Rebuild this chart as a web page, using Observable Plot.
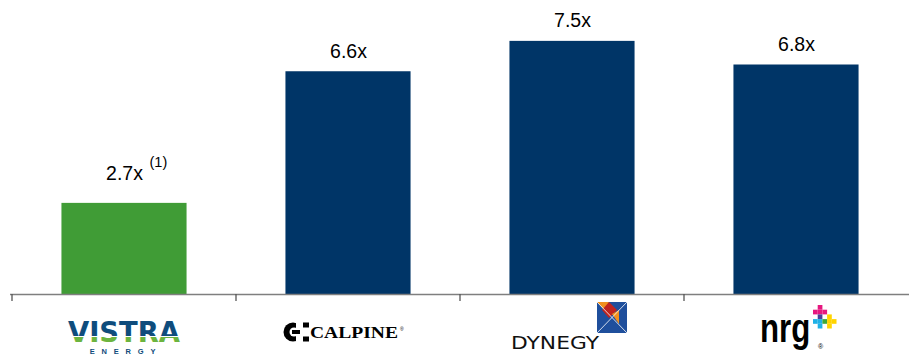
<!DOCTYPE html>
<html>
<head>
<meta charset="utf-8">
<script src="https://cdn.jsdelivr.net/npm/d3@7"></script>
<script src="https://cdn.jsdelivr.net/npm/@observablehq/plot@0.6"></script>
<style>
  html, body { margin: 0; padding: 0; background: #fff; }
  #chart svg { display: block; font-family: Arial, "Liberation Sans", sans-serif; }
</style>
</head>
<body>
<div id="chart"></div>
<script>
const companies = ["Vistra Energy", "Calpine", "Dynegy", "NRG"];
const multiples = [2.7, 6.6, 7.5, 6.8];
const footnotes = ["(1)", "", "", ""];
const barColors = ["#409c36", "#003567", "#003567", "#003567"];

const data = companies.map((c, i) => ({
  company: c, value: multiples[i], note: footnotes[i], color: barColors[i]
}));

const W = 909, H = 356;
const insetFrac = 0.22;
const bw = (W - 10) / companies.length;
const inset = bw * insetFrac;

const chart = Plot.plot({
  width: W,
  height: H,
  marginLeft: 10,
  marginRight: 0,
  marginTop: 24,
  marginBottom: 62,
  x: { domain: companies, padding: 0, axis: null },
  y: { domain: [0, 8], axis: null },
  marks: [
    Plot.barY(data, { x: "company", y: "value", fill: "color", insetLeft: inset, insetRight: inset }),
    Plot.ruleY([0], { stroke: "#7f7f7f", strokeWidth: 1.6 }),
    Plot.text(data.filter(d => !d.note), {
      x: "company", y: "value", text: d => d.value.toFixed(1) + "x",
      dy: -14, lineAnchor: "bottom", fontSize: 19.5, fill: "#000"
    }),
    Plot.text(data.filter(d => d.note), {
      x: "company", y: "value", text: d => d.value.toFixed(1) + "x",
      dy: -23, lineAnchor: "bottom", fontSize: 19.5, fill: "#000"
    }),
    Plot.text(data.filter(d => d.note), {
      x: "company", y: "value", text: "note",
      dx: 25, dy: -36, lineAnchor: "bottom", textAnchor: "start", fontSize: 14.5, fill: "#000"
    })
  ]
});

document.getElementById("chart").appendChild(chart);

// Category boundary ticks and logos placed via the x scale
const xs = chart.scale("x");
const ys = chart.scale("y");
const svg = d3.select(chart);
const y0 = ys.apply(0);
const band = xs.bandwidth;

const ticks = svg.append("g");
companies.forEach(c => {
  const x0 = xs.apply(c);
  ticks.append("line").attr("x1", x0).attr("x2", x0).attr("y1", y0).attr("y2", y0 + 7)
    .attr("stroke", "#555").attr("stroke-width", 1.3);
});

const defs = svg.append("defs");
const grad = defs.append("linearGradient").attr("id", "vistraGrad")
  .attr("gradientUnits", "userSpaceOnUse").attr("x1", 0).attr("x2", 0).attr("y1", 320.5).attr("y2", 341.5);
grad.append("stop").attr("offset", 0.74).attr("stop-color", "#0f4c7c");
grad.append("stop").attr("offset", 0.74).attr("stop-color", "#ffffff");
grad.append("stop").attr("offset", 0.79).attr("stop-color", "#ffffff");
grad.append("stop").attr("offset", 0.79).attr("stop-color", "#6cb43f");

const cx = c => xs.apply(c) + band / 2;

// Vistra Energy logo
{
  const g = svg.append("g").attr("transform", `translate(${cx("Vistra Energy")},0)`);
  g.append("text").attr("x", 0).attr("y", 341.5).attr("text-anchor", "middle")
    .attr("font-family", "'Liberation Sans Narrow', 'DejaVu Sans Condensed', Arial, sans-serif")
    .attr("font-weight", "bold").attr("font-size", 29)
    .attr("textLength", 112).attr("lengthAdjust", "spacingAndGlyphs")
    .attr("fill", "url(#vistraGrad)").text("VISTRA");
  g.append("text").attr("x", 2).attr("y", 354.4).attr("text-anchor", "middle")
    .attr("font-family", "Arial, sans-serif").attr("font-size", 7.5).attr("font-weight", "bold")
    .attr("letter-spacing", 6.8).attr("fill", "#0f4c7c").text("ENERGY");
}

// Calpine logo
{
  const ox = cx("Calpine");
  const g = svg.append("g");
  const ix = ox - 55, iy = 332;
  g.append("circle").attr("cx", ix).attr("cy", iy).attr("r", 9.5).attr("fill", "#000");
  g.append("circle").attr("cx", ix + 1).attr("cy", iy).attr("r", 4.5).attr("fill", "#fff");
  g.append("rect").attr("x", ix + 3).attr("y", iy - 9.5).attr("width", 7).attr("height", 19).attr("fill", "#fff");
  g.append("rect").attr("x", ix - 1).attr("y", iy - 2).attr("width", 8).attr("height", 4).attr("fill", "#000");
  g.append("rect").attr("x", ix + 10).attr("y", iy - 9.5).attr("width", 6).attr("height", 5).attr("fill", "#000");
  g.append("rect").attr("x", ix + 10).attr("y", iy + 4.5).attr("width", 6).attr("height", 5).attr("fill", "#000");
  g.append("text").attr("x", ox - 38).attr("y", 338).attr("text-anchor", "start")
    .attr("font-family", "'Liberation Serif', 'Times New Roman', serif").attr("font-weight", "bold")
    .attr("font-size", 16.5).attr("textLength", 88).attr("lengthAdjust", "spacingAndGlyphs")
    .attr("fill", "#000").text("CALPINE");
  g.append("text").attr("x", ox + 52).attr("y", 331).attr("text-anchor", "start")
    .attr("font-size", 5).attr("fill", "#000").text("®");
}

// Dynegy logo
{
  const ox = cx("Dynegy");
  const g = svg.append("g");
  const sx = ox + 25, sy = 302, s = 30;
  g.append("rect").attr("x", sx).attr("y", sy).attr("width", s).attr("height", s + 1).attr("fill", "#1f4f9c");
  g.append("polygon").attr("points", [[sx, sy], [sx + 12, sy], [sx + 8, sy + 9]].join(" ")).attr("fill", "#f0901e");
  g.append("polygon").attr("points", [[sx + 12, sy], [sx + 20, sy + 8], [sx + 12, sy + 16], [sx + 5, sy + 8]].join(" ")).attr("fill", "#c0241e");
  g.append("polygon").attr("points", [[sx + 15, sy + 12], [sx + 22, sy + 8], [sx + 22, sy + 22]].join(" ")).attr("fill", "#f0901e");
  g.append("line").attr("x1", sx).attr("y1", sy).attr("x2", sx + s).attr("y2", sy + s + 1).attr("stroke", "#fff").attr("stroke-width", 0.8);
  g.append("line").attr("x1", sx + s).attr("y1", sy).attr("x2", sx).attr("y2", sy + s + 1).attr("stroke", "#fff").attr("stroke-width", 0.8);
  g.append("text").attr("x", ox - 61).attr("y", 349).attr("text-anchor", "start")
    .attr("font-family", "'DejaVu Sans', Arial, sans-serif").attr("font-size", 17.5)
    .attr("textLength", 88).attr("lengthAdjust", "spacingAndGlyphs")
    .attr("fill", "#111").text("DYNEGY");
}

// NRG logo
{
  const ox = cx("NRG");
  const g = svg.append("g");
  const nx = ox - 36;
  g.append("text").attr("transform", `translate(${nx},342) scale(0.78,1)`)
    .attr("x", 0).attr("y", 0).attr("text-anchor", "start")
    .attr("font-family", "'Liberation Sans', Arial, sans-serif").attr("font-weight", "bold")
    .attr("font-size", 40).attr("fill", "#000").text("nrg");
  g.append("text").attr("x", ox + 22).attr("y", 349).attr("text-anchor", "start")
    .attr("font-size", 7).attr("fill", "#000").text("®");
  const px = ox + 17, py = 305, u = 4.7;
  const cells = [
    [1, 0, "#e6177f"], [0, 1, "#e6177f"], [1, 1, "#e6177f"], [2, 1, "#e6177f"],
    [1, 2, "#4b3f99"], [3, 2, "#ffd400"],
    [0, 3, "#1fb1e6"], [1, 3, "#1fb1e6"], [2, 3, "#3da83a"], [3, 3, "#ffd400"], [4, 3, "#ffd400"],
    [1, 4, "#1fb1e6"], [3, 4, "#ffd400"]
  ];
  cells.forEach(([i, j, col]) => {
    g.append("rect").attr("x", px + i * u).attr("y", py + j * u).attr("width", u).attr("height", u).attr("fill", col);
  });
}
</script>
</body>
</html>
